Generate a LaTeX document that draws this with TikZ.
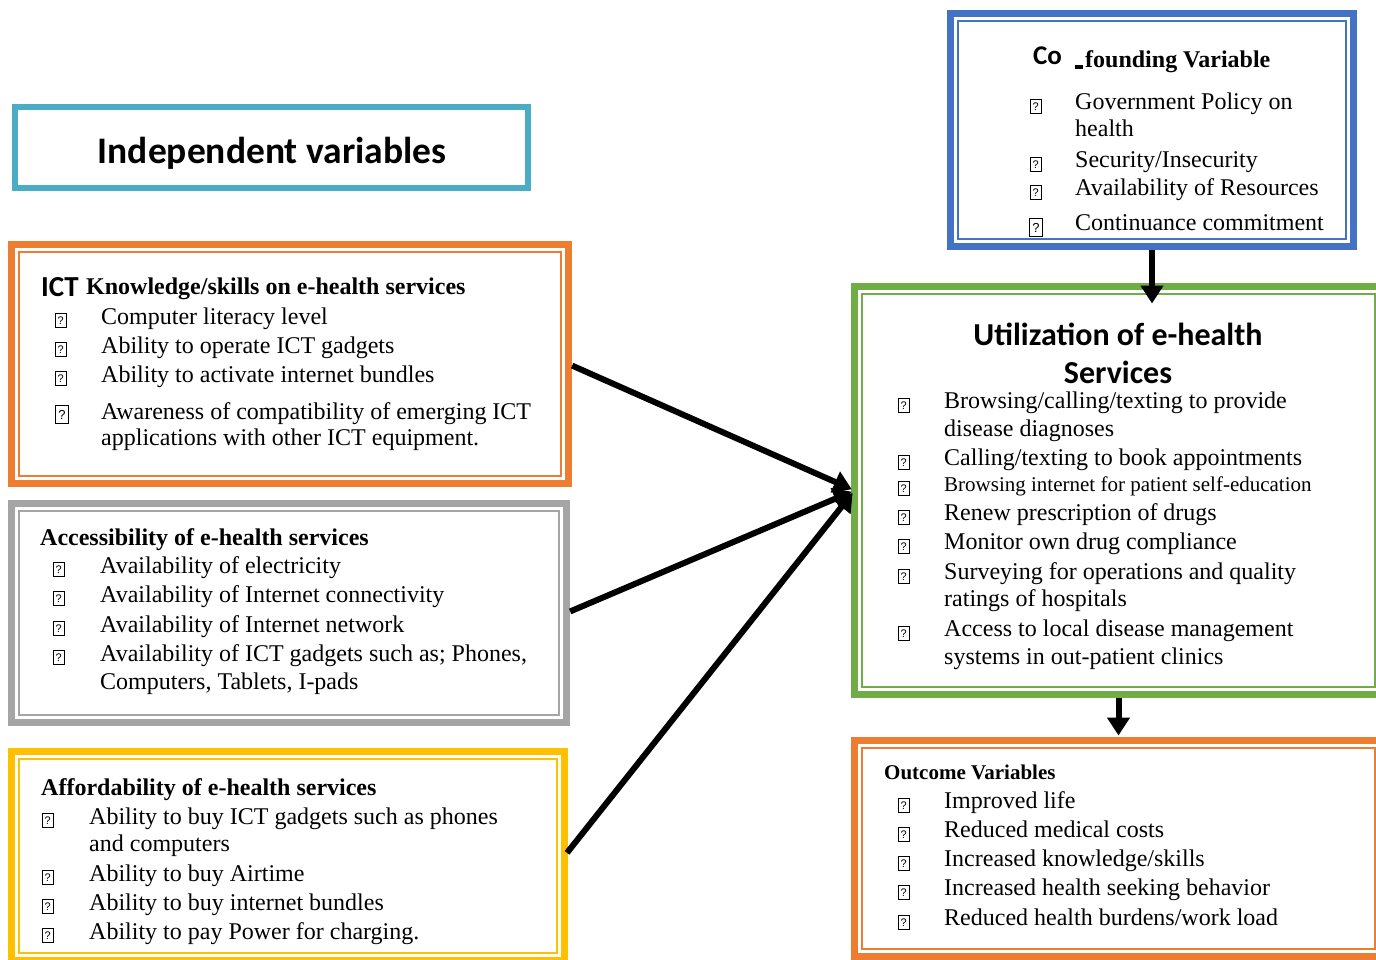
\documentclass[tikz,border=0pt]{standalone}
\usepackage{fontspec}
\setmainfont{Liberation Serif}
\newfontfamily\calib{Carlito}
\newfontfamily\qfont{Liberation Sans}
\usetikzlibrary{arrows.meta,calc}
\definecolor{cCyan}{HTML}{4BACC6}
\definecolor{cOrange}{HTML}{ED7D31}
\definecolor{cGray}{HTML}{A5A5A5}
\definecolor{cGold}{HTML}{FFC000}
\definecolor{cBlue}{HTML}{4472C4}
\definecolor{cGreen}{HTML}{70AD47}
\newcounter{nid}
\tikzset{
 obox/.style={draw=#1, line width=7pt, inner sep=0pt, outer sep=0pt},
 ibox/.style={draw=#1, line width=2pt},
 txt/.style={anchor=base west, inner sep=0pt, yshift=-1pt, font=\fontsize{24}{28}\selectfont},
 stxt/.style={anchor=base west, inner sep=0pt, yshift=-1pt, font=\fontsize{21}{25}\selectfont},
 hd/.style={anchor=base west, inner sep=0pt, yshift=-1pt, font=\fontsize{24}{28}\selectfont\bfseries},
 shd/.style={anchor=base west, inner sep=0pt, yshift=-1pt, font=\fontsize{21}{25}\selectfont\bfseries},
 hcal/.style={anchor=base west, inner sep=0pt, font=\calib\fontsize{#1}{30}\selectfont\bfseries},
 hcal/.default=27,
 tcal/.style={anchor=base, inner sep=0pt, font=\calib\fontsize{32}{36}\selectfont\bfseries},
 ical/.style={anchor=base, inner sep=0pt, font=\calib\fontsize{37.5}{42}\selectfont\bfseries},
 bul/.style={draw, line width=0.8pt, anchor=south west, inner sep=0pt, minimum width=10.5pt, minimum height=14pt, font=\qfont\fontsize{11}{11}\selectfont},
 bigbul/.style={bul, minimum width=13pt, minimum height=18pt, font=\qfont\fontsize{13}{13}\selectfont},
 arr/.style={line width=6pt, -{Triangle[length=18pt,width=22pt]}},
}
\newcommand\itm[4][txt]{\stepcounter{nid}\node[#1] (n\thenid) at (#2,#3) {#4};}
\newcommand\bul[3][bul]{\stepcounter{nid}\node[#1] (n\thenid) at (#2,{#3}) {?};}
\newcommand\dbox[6]{%
 \node[obox=#2, minimum width={#5-#3-7}, minimum height={#6-#4-7}] (#1) at ({(#3+#5)/2},{(#4+#6)/2}) {};
 \draw[ibox=#2] ([shift={(7.5,7.5)}]#1.north west) rectangle ([shift={(-7.5,-7.5)}]#1.south east);
}
\begin{document}
\begin{tikzpicture}[x=1pt,y=-1pt]
\useasboundingbox (0,0) rectangle (1376,960);
\clip (0,0) rectangle (1376,960);
\fill[white] (0,0) rectangle (1376,960);
% Independent variables
\node[draw=cCyan, line width=6pt, minimum width=513, minimum height=81, inner sep=0pt, outer sep=0pt] (indep) at (271.5,147.5) {};
\itm[ical]{272}{164}{Independent variables}
% Confounding
\dbox{conf}{cBlue}{947}{10}{1357}{250}
\itm[hcal=27]{1033}{65}{Co}
\itm[hd]{1075}{67}{\rule[-1pt]{8pt}{3.5pt}\hspace{2pt}founding Variable}
\bul{1030}{114}\itm{1075}{109}{Government Policy on}
\itm{1075}{136}{health}
\bul{1030}{172}\itm{1075}{167}{Security/Insecurity}
\bul{1030}{200}\itm{1075}{195}{Availability of Resources}
\bul[bigbul]{1029}{237}\itm{1075}{230}{Continuance commitment}
% ICT
\dbox{ict}{cOrange}{8}{241}{572}{487}
\itm[hcal=29]{41}{296}{ICT}
\itm[hd]{86}{293}{Knowledge/skills on e-health services}
\bul{55}{328}\itm{101}{323}{Computer literacy level}
\bul{55}{357}\itm{101}{352}{Ability to operate ICT gadgets}
\bul{55}{386}\itm{101}{381}{Ability to activate internet bundles}
\bul[bigbul]{55}{424}\itm{101}{418}{Awareness of compatibility of emerging ICT}
\itm{101}{444}{applications with other ICT equipment.}
% Accessibility
\dbox{acc}{cGray}{8}{500}{570}{726}
\itm[hd]{40}{544}{Accessibility of e-health services}
\bul{53}{577}\itm{100}{572}{Availability of electricity}
\bul{53}{606}\itm{100}{601}{Availability of Internet connectivity}
\bul{53}{636}\itm{100}{631}{Availability of Internet network}
\bul{53}{665}\itm{100}{660}{Availability of ICT gadgets such as; Phones,}
\itm{100}{688}{Computers, Tablets, I-pads}
% Affordability
\dbox{aff}{cGold}{8}{748}{568}{964}
\itm[hd]{41}{794}{Affordability of e-health services}
\bul{42}{828}\itm{89}{823}{Ability to buy ICT gadgets such as phones}
\itm{89}{850}{and computers}
\bul{42}{885}\itm{89}{880}{Ability to buy Airtime}
\bul{42}{914}\itm{89}{909}{Ability to buy internet bundles}
\bul{42}{943}\itm{89}{938}{Ability to pay Power for charging.}
% Utilization
\dbox{util}{cGreen}{851}{283}{1386}{698}
\itm[tcal]{1118}{345}{Utilization of e-health}
\itm[tcal]{1118}{383}{Services}
\bul{898}{413}\itm{944}{407}{Browsing/calling/texting to provide}
\itm{944}{435}{disease diagnoses}
\bul{898}{470}\itm{944}{464}{Calling/texting to book appointments}
\bul{898}{496}\itm[stxt]{944}{490}{Browsing internet for patient self-education}
\bul{898}{525}\itm{944}{519}{Renew prescription of drugs}
\bul{898}{554}\itm{944}{548}{Monitor own drug compliance}
\bul{898}{584}\itm{944}{578}{Surveying for operations and quality}
\itm{944}{605}{ratings of hospitals}
\bul{898}{641}\itm{944}{635}{Access to local disease management}
\itm{944}{663}{systems in out-patient clinics}
% Outcome
\dbox{out}{cOrange}{851}{737}{1386}{960}
\itm[shd]{884}{778}{Outcome Variables}
\bul{898}{813}\itm{944}{807}{Improved life}
\bul{898}{842}\itm{944}{836}{Reduced medical costs}
\bul{898}{871}\itm{944}{865}{Increased knowledge/skills}
\bul{898}{900}\itm{944}{894}{Increased health seeking behavior}
\bul{898}{930}\itm{944}{924}{Reduced health burdens/work load}
% Arrows
\coordinate (cin) at ($(conf.south |- util.north)+(0,17)$);
\draw[arr, shorten <=3.5pt] (conf.south) -- (cin);
\draw[arr, shorten <=3.5pt, shorten >=5pt] (util.south) -- (out.north);
\draw[arr, shorten <=4pt, shorten >=3pt] (ict.east) -- (util.west);
\draw[arr, shorten <=4pt, shorten >=3pt] (acc.east) -- (util.west);
\draw[arr, shorten <=4pt, shorten >=3pt] (aff.east) -- (util.west);
\end{tikzpicture}
\end{document}
